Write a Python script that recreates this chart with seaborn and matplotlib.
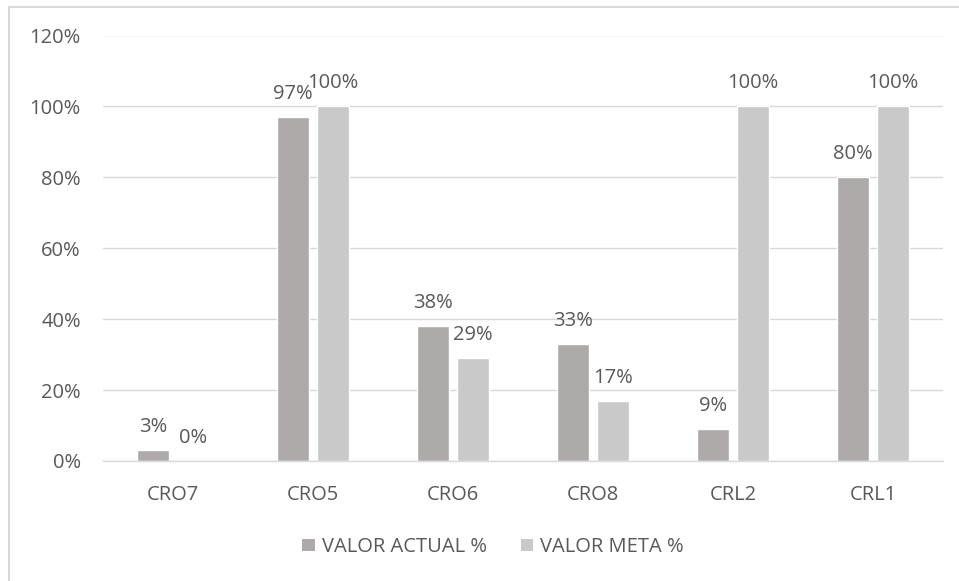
import matplotlib
matplotlib.use("Agg")
import matplotlib.pyplot as plt
from matplotlib.patches import Patch, Rectangle
from matplotlib.ticker import PercentFormatter
import pandas as pd
import seaborn as sns

categories = ["CRO7", "CRO5", "CRO6", "CRO8", "CRL2", "CRL1"]
valor_actual = [3, 97, 38, 33, 9, 80]
valor_meta = [0, 100, 29, 17, 100, 100]
series_names = ["VALOR ACTUAL %", "VALOR META %"]
series_colors = ["#AEAAAA", "#C9C9C9"]

df = pd.DataFrame({
    "categoria": categories * 2,
    "serie": [series_names[0]] * len(categories) + [series_names[1]] * len(categories),
    "valor": [v / 100 for v in valor_actual + valor_meta],
})

sns.set_theme(style="white")
plt.rcParams["font.family"] = ["Open Sans", "DejaVu Sans"]
text_color = "#595959"
fs = 14.5

fig = plt.figure(figsize=(9.59, 5.81), dpi=100)
ax = fig.add_axes([103 / 959, 1 - 461 / 581, 840 / 959, (461 - 35.5) / 581])

sns.barplot(data=df, x="categoria", y="valor", hue="serie", order=categories,
            hue_order=series_names, palette=series_colors, width=0.571, gap=0.2,
            saturation=1, legend=False, ax=ax, errorbar=None)

ax.set_ylim(0, 1.2)
ax.set_yticks([0, 0.2, 0.4, 0.6, 0.8, 1.0, 1.2])
ax.yaxis.set_major_formatter(PercentFormatter(1.0, decimals=0))
ax.set_xlim(-0.5, len(categories) - 0.5)
ax.grid(axis="y", color="#D9D9D9", linewidth=1)
ax.set_axisbelow(True)
for side in ["top", "right", "left"]:
    ax.spines[side].set_visible(False)
ax.spines["bottom"].set_color("#D9D9D9")
ax.spines["bottom"].set_linewidth(1)
ax.set_xlabel("")
ax.set_ylabel("")
ax.tick_params(axis="y", length=0, pad=16, labelsize=fs, labelcolor=text_color)
ax.tick_params(axis="x", length=0, pad=17, labelsize=fs, labelcolor=text_color)

for container in ax.containers:
    ax.bar_label(container, labels=[f"{round(b.get_height() * 100):.0f}%" for b in container],
                 padding=9.5, fontsize=fs, color=text_color)

handles = [Patch(facecolor=c, edgecolor="none") for c in series_colors]
fig.legend(handles, series_names, loc="center", bbox_to_anchor=(493 / 959, 1 - 547 / 581),
           ncol=2, frameon=False, fontsize=fs, labelcolor=text_color,
           handlelength=0.6, handleheight=0.6, handletextpad=0.35, columnspacing=1.7)

fig.patches.append(Rectangle((9 / 959, -0.1), 1.2, 1 - 7 / 581 + 0.1,
                             transform=fig.transFigure, fill=False,
                             edgecolor="#D9D9D9", linewidth=1.5))

fig.savefig("out.png", dpi=100)
